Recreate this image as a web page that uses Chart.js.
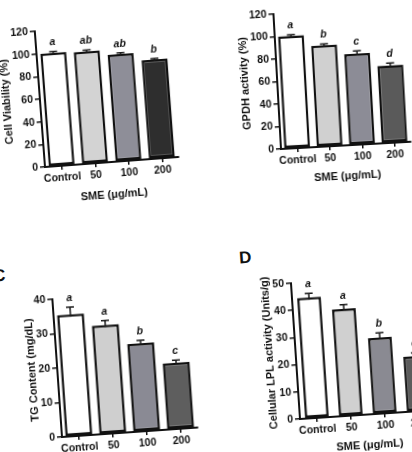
<!DOCTYPE html>
<html>
<head>
<meta charset="utf-8">
<script src="https://cdn.jsdelivr.net/npm/chart.js@4.4.0/dist/chart.umd.min.js"></script>
<style>
  html, body { margin: 0; padding: 0; background: #fff; }
  #page { position: relative; width: 412px; height: 452px; overflow: hidden; background: #fff;
          font-family: "Liberation Sans", Arial, sans-serif; }
  .panel { position: absolute; }
  .tag { position: absolute; font-weight: bold; font-size: 17px; line-height: 17px; color: #111;
         transform: rotate(-4deg); }
</style>
</head>
<body>
<div id="page">
  <canvas id="chartA" class="panel"></canvas>
  <canvas id="chartB" class="panel"></canvas>
  <canvas id="chartC" class="panel"></canvas>
  <canvas id="chartD" class="panel"></canvas>
  <div class="tag" style="left:-7px; top:267px;">C</div>
  <div class="tag" style="left:239px; top:249px;">D</div>
</div>
<script>
// data
const doses = ['Control', '50', '100', '200'];

const viability = [100, 99, 94.5, 87.3];
const viabilityErr = [1, 1.2, 1, 1];
const viabilityLetters = ['a', 'ab', 'ab', 'b'];

const gpdh = [100, 90, 81, 69];
const gpdhErr = [0.8, 1.2, 2.4, 1.8];
const gpdhLetters = ['a', 'b', 'c', 'd'];

const tg = [35.3, 31.5, 25.5, 19.2];
const tgErr = [2.1, 1.3, 0.9, 0.7];
const tgLetters = ['a', 'a', 'b', 'c'];

const lpl = [44.4, 39.3, 27.9, 20.3];
const lplErr = [1.5, 1.6, 1.8, 1.2];
const lplLetters = ['a', 'a', 'b', 'c'];

const FONT = '"Liberation Sans", Arial, sans-serif';
const INK = '#111';

// error bars (upper half) and significance letters
const errLetters = {
  id: 'errLetters',
  afterDatasetsDraw(chart, args, opts) {
    const ctx = chart.ctx;
    const y = chart.scales.y;
    const meta = chart.getDatasetMeta(0);
    ctx.save();
    meta.data.forEach((bar, i) => {
      const base = y.getPixelForValue(opts.values[i]);
      const top = y.getPixelForValue(opts.values[i] + opts.errors[i]);
      ctx.strokeStyle = '#1a1a1a';
      ctx.lineWidth = 1.5;
      ctx.beginPath();
      ctx.moveTo(bar.x, base + 2);
      ctx.lineTo(bar.x, top);
      ctx.moveTo(bar.x - 4, top);
      ctx.lineTo(bar.x + 4, top);
      ctx.stroke();
      ctx.font = 'italic bold 10.5px ' + FONT;
      ctx.textAlign = 'center';
      ctx.textBaseline = 'middle';
      ctx.fillStyle = INK;
      ctx.fillText(opts.letters[i], bar.x, top - 9);
    });
    ctx.restore();
  }
};

function makePanel(id, p) {
  const cv = document.getElementById(id);
  const W = p.wy + p.w + p.pr;
  const H = p.pt + p.h + p.hx;
  cv.width = W;
  cv.height = H;
  cv.style.width = W + 'px';
  cv.style.height = H + 'px';
  cv.style.left = (p.ox - p.wy) + 'px';
  cv.style.top = (p.oy - p.pt - p.h) + 'px';
  cv.style.transformOrigin = p.wy + 'px ' + (p.pt + p.h) + 'px';
  cv.style.transform = 'rotate(' + p.angle + 'deg)';

  const tickFont = { family: FONT, size: 10.5, weight: 'bold' };
  const titleFont = { family: FONT, size: 11, weight: 'bold' };

  new Chart(cv, {
    type: 'bar',
    data: {
      labels: doses,
      datasets: [{
        data: p.values,
        backgroundColor: p.colors,
        borderColor: INK,
        borderWidth: 2.5,
        borderSkipped: false,
        barPercentage: p.bp,
        categoryPercentage: 1
      }]
    },
    plugins: [errLetters],
    options: {
      responsive: false,
      animation: false,
      layout: { padding: { left: 0, top: p.pt, right: p.pr, bottom: 0 } },
      plugins: {
        legend: { display: false },
        tooltip: { enabled: false },
        errLetters: { values: p.values, errors: p.errors, letters: p.letters }
      },
      scales: {
        x: {
          offset: true,
          grid: { offset: false, drawOnChartArea: false, tickLength: 4, color: INK, lineWidth: 1.5 },
          border: { color: INK, width: 2 },
          ticks: { color: INK, font: tickFont, padding: 2, maxRotation: 0, autoSkip: false },
          title: { display: true, text: 'SME (μg/mL)', color: INK, font: titleFont, padding: 0 },
          afterFit: s => { s.height = p.hx; }
        },
        y: {
          min: 0,
          max: p.ymax,
          grid: { drawOnChartArea: false, tickLength: 5, color: INK, lineWidth: 1.5 },
          border: { color: INK, width: 2 },
          ticks: { stepSize: p.step, color: INK, font: tickFont, padding: 2 },
          title: { display: true, text: p.yTitle, color: INK, font: titleFont, padding: 0 },
          afterFit: s => { s.width = p.wy; }
        }
      }
    }
  });
}

makePanel('chartA', {
  values: viability, errors: viabilityErr, letters: viabilityLetters,
  colors: ['#ffffff', '#d3d3d3', '#8e8e98', '#2e2e2e'],
  yTitle: 'Cell Viability (%)', ymax: 120, step: 20,
  ox: 45, oy: 167, w: 134, h: 136, angle: -4.3, wy: 40, hx: 40, pt: 15, pr: 12, bp: 0.78
});
makePanel('chartB', {
  values: gpdh, errors: gpdhErr, letters: gpdhLetters,
  colors: ['#ffffff', '#d0d0d0', '#8c8c96', '#5a5a5a'],
  yTitle: 'GPDH activity (%)', ymax: 120, step: 20,
  ox: 281, oy: 149, w: 130, h: 135, angle: -3.2, wy: 39, hx: 38, pt: 12, pr: 12, bp: 0.8
});
makePanel('chartC', {
  values: tg, errors: tgErr, letters: tgLetters,
  colors: ['#ffffff', '#cfcfcf', '#8a8a94', '#5e5e5e'],
  yTitle: 'TG Content (mg/dL)', ymax: 40, step: 10,
  ox: 62, oy: 437, w: 136, h: 138, angle: -4, wy: 32, hx: 38, pt: 15, pr: 12, bp: 0.8
});
makePanel('chartD', {
  values: lpl, errors: lplErr, letters: lplLetters,
  colors: ['#ffffff', '#d0d0d0', '#8a8a92', '#5c5c5c'],
  yTitle: 'Cellular LPL activity (Units/g)', ymax: 50, step: 10,
  ox: 300, oy: 419, w: 136, h: 136, angle: -3.8, wy: 33, hx: 38, pt: 15, pr: 12, bp: 0.7
});
</script>
</body>
</html>
